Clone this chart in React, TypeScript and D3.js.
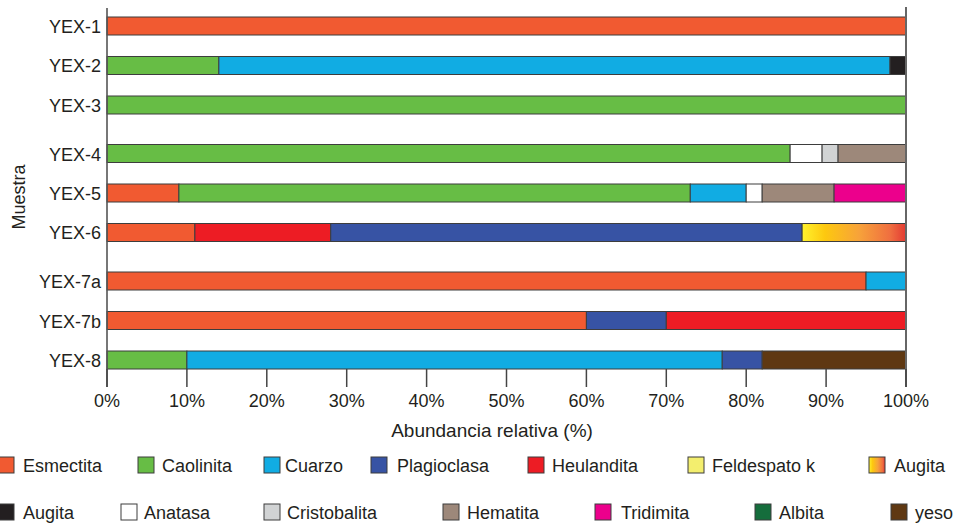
import React from "react";
import * as d3 from "d3";

// Samples and the group each one belongs to (groups are separated by a wider gap)
const samples = ["YEX-1", "YEX-2", "YEX-3", "YEX-4", "YEX-5", "YEX-6", "YEX-7a", "YEX-7b", "YEX-8"];
const sampleGroups = [0, 0, 0, 1, 1, 1, 2, 2, 2];

// Mineral identifiers, legend labels and fills (legend order: two rows of seven)
const mineralIds = [
  "esmectita", "caolinita", "cuarzo", "plagioclasa", "heulandita", "feldespato", "augitaGrad",
  "augita", "anatasa", "cristobalita", "hematita", "tridimita", "albita", "yeso",
];
const mineralLabels = [
  "Esmectita", "Caolinita", "Cuarzo", "Plagioclasa", "Heulandita", "Feldespato k", "Augita",
  "Augita", "Anatasa", "Cristobalita", "Hematita", "Tridimita", "Albita", "yeso",
];
const mineralFills = [
  "#f15a31", "#67bd45", "#11ace3", "#3753a4", "#ed1c24", "#f3ee6e", "url(#augitaGradient)",
  "#231f20", "#ffffff", "#d1d3d4", "#9d887a", "#ec008c", "#156d3c", "#5f3812",
];

// Composition of each sample (%), in the order the segments are stacked
const yex1: [string, number][] = [["esmectita", 100]];
const yex2: [string, number][] = [["caolinita", 14], ["cuarzo", 84], ["augita", 2]];
const yex3: [string, number][] = [["caolinita", 100]];
const yex4: [string, number][] = [["caolinita", 85.5], ["anatasa", 4], ["cristobalita", 2], ["hematita", 8.5]];
const yex5: [string, number][] = [["esmectita", 9], ["caolinita", 64], ["cuarzo", 7], ["anatasa", 2], ["hematita", 9], ["tridimita", 9]];
const yex6: [string, number][] = [["esmectita", 11], ["heulandita", 17], ["plagioclasa", 59], ["augitaGrad", 13]];
const yex7a: [string, number][] = [["esmectita", 95], ["cuarzo", 5]];
const yex7b: [string, number][] = [["esmectita", 60], ["plagioclasa", 10], ["heulandita", 30]];
const yex8: [string, number][] = [["caolinita", 10], ["cuarzo", 67], ["plagioclasa", 5], ["yeso", 18]];
const compositions = [yex1, yex2, yex3, yex4, yex5, yex6, yex7a, yex7b, yex8];

const xTicks = [0, 10, 20, 30, 40, 50, 60, 70, 80, 90, 100];

// Legend item positions (swatch left edge) for each row
const legendRow1X = [-2, 138, 264, 371, 528, 688, 869];
const legendRow2X = [-2, 121, 264, 443, 595, 755, 891];
const legendTextX1 = [23, 162, 285, 397, 552, 712, 894];
const legendTextX2 = [23, 144, 287, 467, 621, 779, 915];

const TEXT = "#231f20";
const FONT = "'Liberation Sans', Arial, Helvetica, sans-serif";

export default function App() {
  const width = 956;
  const height = 527;
  const groupGap = 0.228;

  const x = d3.scaleLinear().domain([0, 100]).range([107, 906]);
  const slot = samples.map((_, i) => i + sampleGroups[i] * groupGap);
  const y = d3.scaleLinear().domain([0, 8 + 2 * groupGap]).range([26, 360]);
  const barH = 18;
  const axisTop = 8;
  const axisBottom = 387;
  const barsBottom = y(slot[slot.length - 1]) + barH / 2;

  const fillOf = (id: string) => mineralFills[mineralIds.indexOf(id)];

  const bars = compositions.map((comp, i) => {
    let acc = 0;
    return comp.map(([id, v]) => {
      const x0 = acc;
      acc += v;
      return { id, x0, x1: acc, i };
    });
  });

  const legendItems = mineralIds.map((id, k) => {
    const row = k < 7 ? 0 : 1;
    const col = k % 7;
    return {
      id,
      label: mineralLabels[k],
      fill: mineralFills[k],
      sx: row === 0 ? legendRow1X[col] : legendRow2X[col],
      tx: row === 0 ? legendTextX1[col] : legendTextX2[col],
      cy: row === 0 ? 465 : 512,
    };
  });

  return (
    <svg
      width={width}
      height={height}
      style={{ position: "absolute", left: 0, top: 0, background: "#fff" }}
      fontFamily={FONT}
    >
      <defs>
        <linearGradient id="augitaGradient" x1="0" x2="1" y1="0" y2="0">
          <stop offset="0%" stopColor="#fff22d" />
          <stop offset="22%" stopColor="#fdc80f" />
          <stop offset="55%" stopColor="#f7a23a" />
          <stop offset="85%" stopColor="#ef6e40" />
          <stop offset="100%" stopColor="#e33a33" />
        </linearGradient>
      </defs>

      {/* stacked bars */}
      {bars.map((segs, i) => (
        <g key={samples[i]}>
          {segs.map((s) => (
            <rect
              key={s.id}
              x={x(s.x0)}
              y={y(slot[i]) - barH / 2}
              width={x(s.x1) - x(s.x0)}
              height={barH}
              fill={fillOf(s.id)}
              stroke="#3d3d3d"
              strokeWidth={1}
            />
          ))}
        </g>
      ))}

      {/* left and right frame lines */}
      <line x1={x(0)} x2={x(0)} y1={axisTop} y2={axisBottom} stroke="#555" strokeWidth={1.6} />
      <line x1={x(100)} x2={x(100)} y1={axisTop - 1} y2={axisBottom} stroke="#666" strokeWidth={2} />

      {/* x ticks and labels */}
      {xTicks.map((t) => (
        <g key={t}>
          <line x1={x(t)} x2={x(t)} y1={barsBottom} y2={axisBottom} stroke="#444" strokeWidth={1.5} />
          <text x={x(t)} y={406.5} textAnchor="middle" fontSize={18} fill={TEXT}>
            {`${t}%`}
          </text>
        </g>
      ))}

      {/* sample labels */}
      {samples.map((s, i) => (
        <text
          key={s}
          x={101}
          y={y(slot[i]) + 7}
          textAnchor="end"
          fontSize={18}
          fill={TEXT}
        >
          {s}
        </text>
      ))}

      {/* axis titles */}
      <text x={492} y={437} textAnchor="middle" fontSize={19} fill={TEXT}>
        Abundancia relativa (%)
      </text>
      <text
        transform="translate(25,197) rotate(-90)"
        textAnchor="middle"
        fontSize={18}
        fill={TEXT}
      >
        Muestra
      </text>

      {/* legend */}
      {legendItems.map((d) => (
        <g key={d.id}>
          <rect
            x={d.sx}
            y={d.cy - 8}
            width={16}
            height={16}
            fill={d.fill}
            stroke="#3d3d3d"
            strokeWidth={1}
          />
          <text x={d.tx} y={d.cy + 7} fontSize={18} fill={TEXT}>
            {d.label}
          </text>
        </g>
      ))}
    </svg>
  );
}
